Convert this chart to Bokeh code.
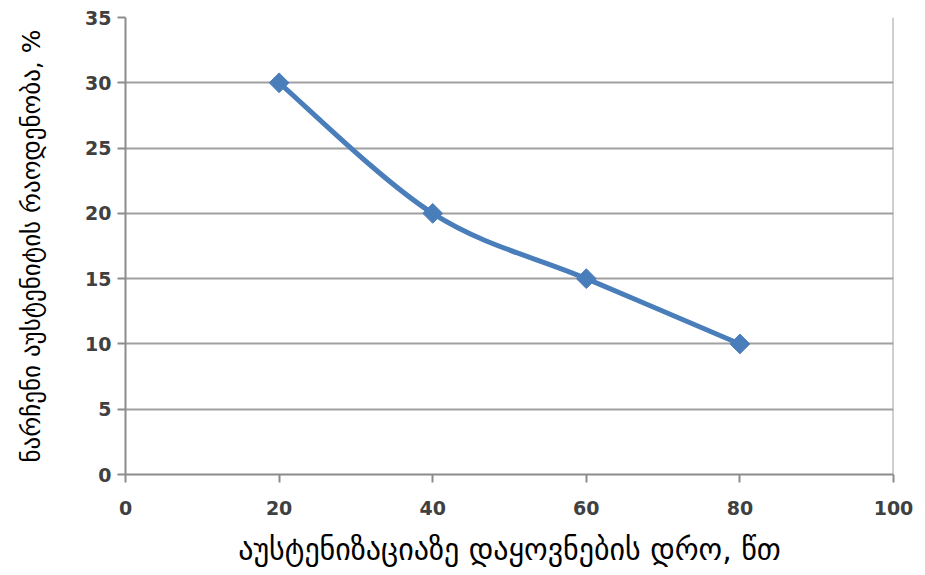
import numpy as np
from bokeh.plotting import figure
from bokeh.models import Range1d, FixedTicker, Span
from bokeh.embed import file_html
from bokeh.resources import INLINE

# Data
time_min = [20, 40, 60, 80]
retained_austenite = [30, 20, 15, 10]
x_ticks = [0, 20, 40, 60, 80, 100]
y_ticks = [0, 5, 10, 15, 20, 25, 30, 35]
x_label = "აუსტენიზაციაზე დაყოვნების დრო, წთ"
y_label = "ნარჩენი აუსტენიტის რაოდენობა, %"

LINE_COLOR = "#4a7ebb"
GRID_COLOR = "#a0a0a0"
AXIS_COLOR = "#8c8c8c"
TEXT_COLOR = "#404040"
FONT = "DejaVu Sans"

p = figure(width=925, height=575, output_backend="svg", toolbar_location=None,
           x_range=Range1d(0, 100), y_range=Range1d(0, 35),
           min_border_left=125, min_border_right=32, min_border_top=17,
           min_border_bottom=101)
p.outline_line_color = None
p.background_fill_color = "white"
p.border_fill_color = "white"

# smoothed line (Excel-style Bezier through the data points)
x = np.array(time_min, dtype=float)
y = np.array(retained_austenite, dtype=float)
xp = np.concatenate([[x[0]], x, [x[-1]]])
yp = np.concatenate([[y[0]], y, [y[-1]]])
n = len(x)
x0 = x[:-1]; y0 = y[:-1]; x1 = x[1:]; y1 = y[1:]
cx0 = x0 + (xp[2:n + 1] - xp[0:n - 1]) / 6.0
cy0 = y0 + (yp[2:n + 1] - yp[0:n - 1]) / 6.0
cx1 = x1 - (xp[3:n + 2] - xp[1:n]) / 6.0
cy1 = y1 - (yp[3:n + 2] - yp[1:n]) / 6.0
p.bezier(x0=x0, y0=y0, x1=x1, y1=y1, cx0=cx0, cy0=cy0, cx1=cx1, cy1=cy1,
         line_color=LINE_COLOR, line_width=5)
p.scatter(time_min, retained_austenite, marker="square", angle=np.pi / 4,
          size=14, fill_color=LINE_COLOR, line_color=LINE_COLOR)

p.add_layout(Span(location=100, dimension="height", line_color=GRID_COLOR, line_width=2))

p.xgrid.grid_line_color = None
p.ygrid.grid_line_color = GRID_COLOR
p.ygrid.grid_line_width = 2

p.xaxis.ticker = FixedTicker(ticks=x_ticks)
p.yaxis.ticker = FixedTicker(ticks=y_ticks)
for ax in (p.xaxis[0], p.yaxis[0]):
    ax.axis_line_color = AXIS_COLOR
    ax.axis_line_width = 2
    ax.major_tick_line_color = AXIS_COLOR
    ax.major_tick_line_width = 2
    ax.major_tick_in = 0
    ax.major_tick_out = 8
    ax.minor_tick_line_color = None
    ax.major_label_text_font = FONT
    ax.major_label_text_font_size = "19px"
    ax.major_label_text_font_style = "bold"
    ax.major_label_text_color = TEXT_COLOR
    ax.axis_label_text_font = FONT
    ax.axis_label_text_font_style = "normal"
    ax.axis_label_text_color = "#000000"

p.xaxis.axis_label = x_label
p.yaxis.axis_label = y_label
p.xaxis.axis_label_text_font_size = "30px"
p.yaxis.axis_label_text_font_size = "25px"
p.xaxis.major_label_standoff = 18
p.yaxis.major_label_standoff = 6
p.xaxis.axis_label_standoff = 14
p.yaxis.axis_label_standoff = 36

open("out.html", "w").write(file_html(p, INLINE))
